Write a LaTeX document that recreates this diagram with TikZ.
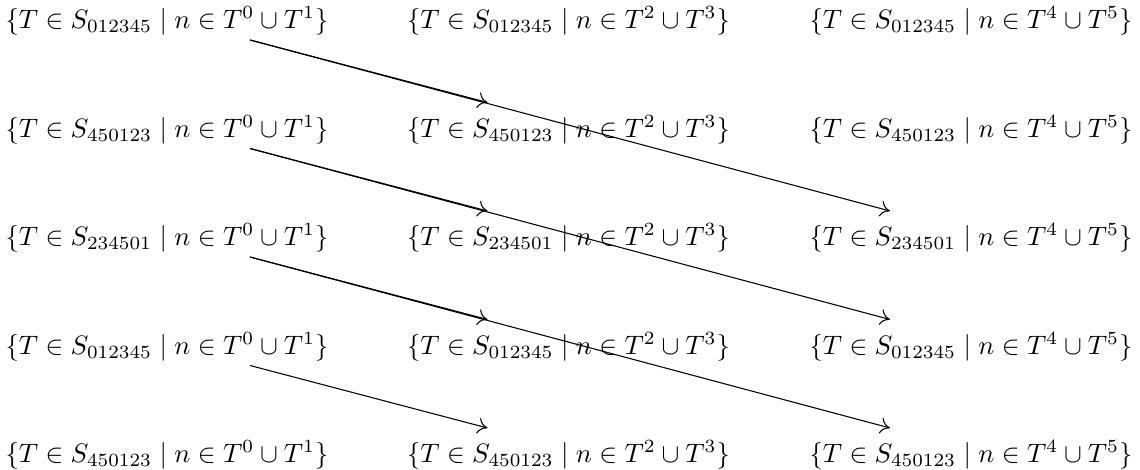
\documentclass[tikz,border=0pt]{standalone}
\usepackage{amsmath}
\usetikzlibrary{arrows.meta}
\begin{document}
\begin{tikzpicture}[x=0.375pt,y=-0.375pt,
  lbl/.style={inner sep=0pt, outer sep=0pt},
  arr/.style={-{Computer Modern Rightarrow[length=3.6pt,width=6pt]}, line width=0.4pt}]
\useasboundingbox (0,0) rectangle (1140,470);
\foreach \r/\y/\s in {1/21/012345,2/129.5/450123,3/238/234501,4/346.5/012345,5/455/450123}{
  \node[lbl] (r\r c1) at (167,\y) {$\{T\in S_{\s}\mid n\in T^0\cup T^1\}$};
  \node[lbl] (r\r c2) at (568.5,\y) {$\{T\in S_{\s}\mid n\in T^2\cup T^3\}$};
  \node[lbl] (r\r c3) at (971,\y) {$\{T\in S_{\s}\mid n\in T^4\cup T^5\}$};
}
\foreach \r in {1,2,3,4}{
  \coordinate (s\r) at ([shift={(83,19)}]r\r c1.center);
}
\foreach \r in {2,3,4,5}{
  \coordinate (e\r b) at ([shift={(-81,-27)}]r\r c2.center);
}
\foreach \r in {3,4,5}{
  \coordinate (e\r c) at ([shift={(-81,-27)}]r\r c3.center);
}
\draw[arr] (s1) -- (e2b);
\draw[arr] (s1) -- (e3c);
\draw[arr] (s2) -- (e3b);
\draw[arr] (s2) -- (e4c);
\draw[arr] (s3) -- (e4b);
\draw[arr] (s3) -- (e5c);
\draw[arr] (s4) -- (e5b);
\end{tikzpicture}
\end{document}
